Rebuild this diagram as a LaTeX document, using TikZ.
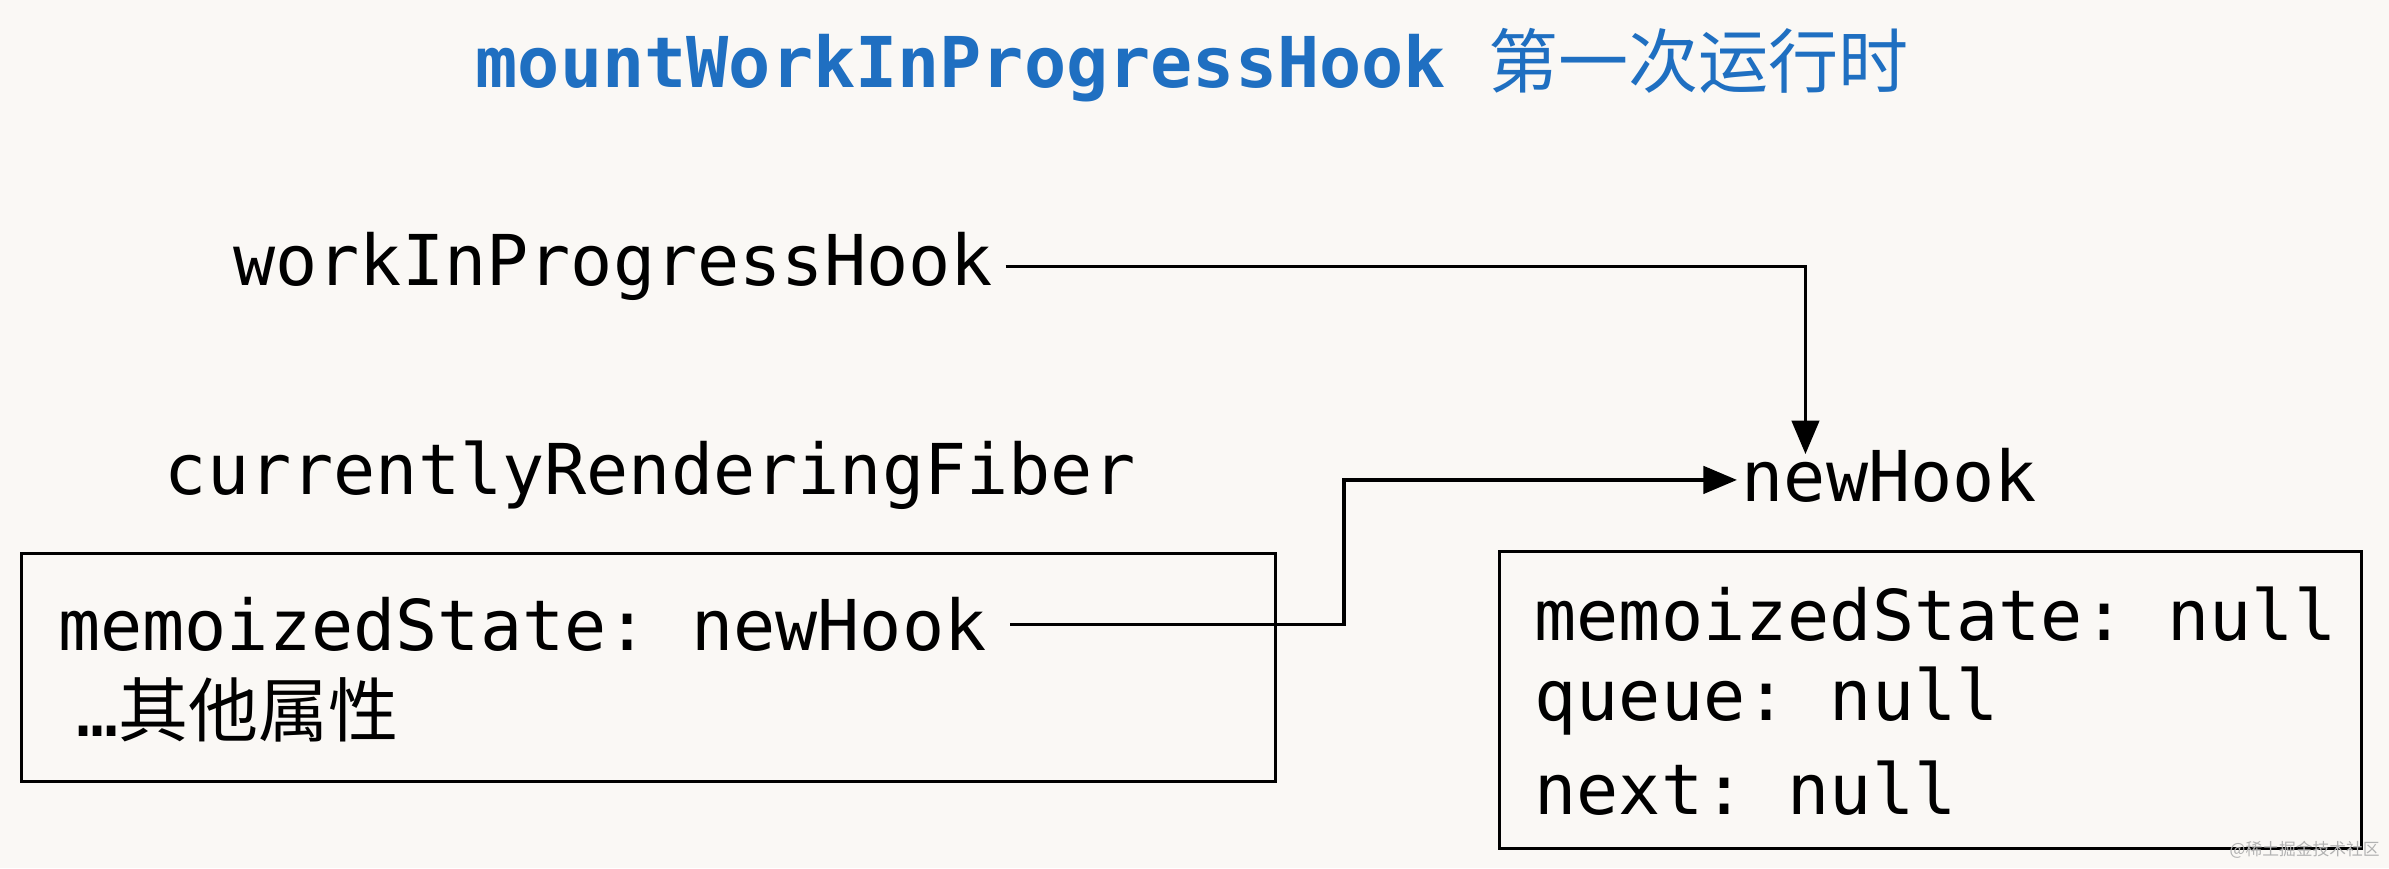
\documentclass[tikz,border=0pt]{standalone}
\usepackage{fontspec}
\setmonofont{DejaVu Sans Mono}
\newfontfamily\cjk{Noto Sans CJK SC}
\usetikzlibrary{arrows.meta}
\definecolor{bg}{HTML}{FAF8F5}
\definecolor{ttl}{HTML}{1F6FC1}
\begin{document}
\begin{tikzpicture}[x=1pt,y=-1pt,
  lbl/.style={anchor=west,inner sep=0pt,font=\fontsize{46}{55}\selectfont\ttfamily},
  box/.style={draw,line width=2.2pt},
  conn/.style={line width=2.2pt,-{Triangle[length=22pt,width=18pt]}}]
\fill[bg] (0,0) rectangle (1568,570);
\useasboundingbox (0,0) rectangle (1568,570);
\node[lbl,text=ttl,font=\fontsize{46}{55}\selectfont\ttfamily\bfseries] (title) at (312,43) {mountWorkInProgressHook {\cjk\mdseries 第一次运行时}};
\node[lbl] (wip) at (153,175) {workInProgressHook};
\node[lbl] (crf) at (108,312) {currentlyRenderingFiber};
\node[lbl] (nh) at (1143,312) {newHook};
\node[box,minimum width=823pt,minimum height=150pt,anchor=north west] (lbox) at (13,362) {};
\node[lbl] (ms) at (38,410) {memoizedState: newHook};
\node[lbl] (oth) at (50,466) {…{\cjk 其他属性}};
\node[box,minimum width=566pt,minimum height=195pt,anchor=north west] (rbox) at (983,361) {};
\node[lbl] (r1) at (1007,403) {memoizedState: null};
\node[lbl] (r2) at (1007,460) {queue: null};
\node[lbl] (r3) at (1007,517) {next: null};
\node[anchor=east,inner sep=0pt,text=gray!60,font=\fontsize{11}{13}\selectfont\cjk] (wm) at (1562,558) {@稀土掘金技术社区};
\coordinate (a1) at (660,175);
\coordinate (a2) at (1185,175);
\coordinate (a3) at (1185,298);
\coordinate (b1) at (663,410);
\coordinate (b2) at (882,410);
\coordinate (b3) at (882,315);
\coordinate (b4) at (1140,315);
\draw[conn] (a1) -- (a2) -- (a3);
\draw[conn] (b1) -- (b2) -- (b3) -- (b4);
\end{tikzpicture}
\end{document}
